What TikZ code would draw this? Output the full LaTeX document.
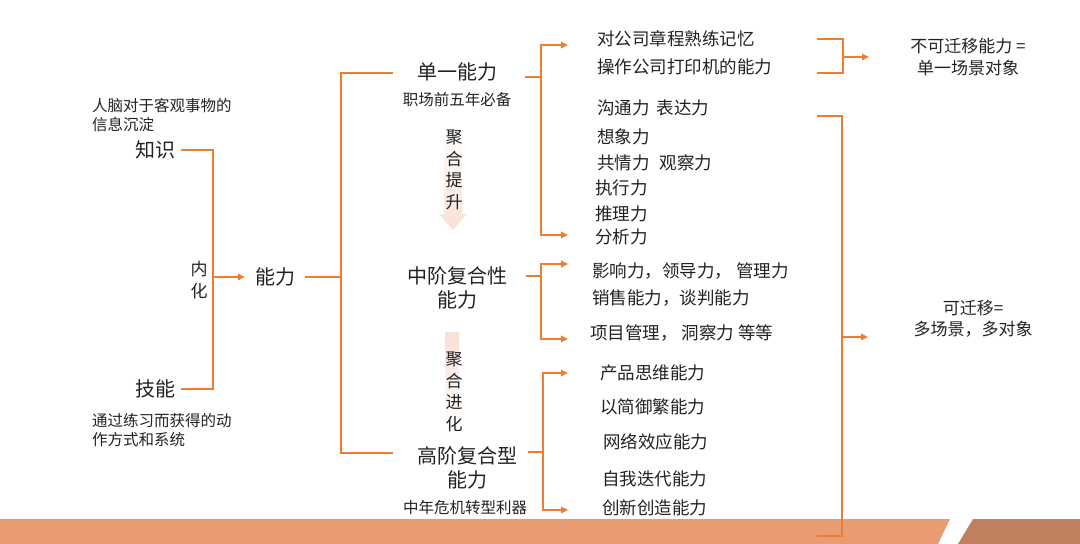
\documentclass[tikz,border=0pt]{standalone}
\usepackage{fontspec}
\setmainfont{Noto Sans CJK SC}
\usetikzlibrary{arrows.meta}
\definecolor{linkorange}{HTML}{ED7D31}
\definecolor{bandlight}{HTML}{E99B72}
\definecolor{banddark}{HTML}{C0805F}
\definecolor{fadepink}{HTML}{F6D9CB}
\definecolor{inkgray}{HTML}{222222}

\tikzset{
  link/.style={draw=linkorange, line width=1.7pt},
  tip/.style={link, -{Triangle[length=7pt,width=6.5pt]}},
  head/.style={align=center, inner sep=0pt, text=inkgray, font=\fontsize{20}{24}\selectfont},
  item/.style={anchor=west, inner sep=0pt, text=inkgray, font=\fontsize{17.5}{20}\selectfont},
  note/.style={align=left, inner sep=0pt, text=inkgray, font=\fontsize{15.5}{19}\selectfont},
  sidetext/.style={align=center, inner sep=0pt, text=inkgray, font=\fontsize{17}{21.5}\selectfont},
}

\begin{document}
\begin{tikzpicture}[x=1pt,y=-1pt]
  \useasboundingbox (0,0) rectangle (1080,544);

  % bottom band
  \fill[bandlight] (0,519) -- (950,519) -- (938,544) -- (0,544) -- cycle;
  \fill[banddark] (973,519) -- (1080,519) -- (1080,544) -- (958,544) -- cycle;

  % faint arrows behind the side texts
  \shade[top color=white, bottom color=fadepink, opacity=0.8]
    (444,128) -- (462,128) -- (462,214) -- (467,214) -- (453,230) -- (439,214) -- (444,214) -- cycle;
  \shade[top color=fadepink, bottom color=white, opacity=0.8]
    (445,332) -- (459,332) -- (459,412) -- (463,412) -- (452,426) -- (441,412) -- (445,412) -- cycle;

  % left side
  \node[note, anchor=west] (knownote) at (92,115.5) {人脑对于客观事物的\\信息沉淀};
  \node[head] (know) at (155,150) {知识};
  \node[head] (skill) at (155,389) {技能};
  \node[note, anchor=west] (skillnote) at (92,430.5) {通过练习而获得的动\\作方式和系统};
  \node[sidetext] (inner) at (199,280) {内\\化};
  \node[head] (ability) at (275,277) {能力};

  \coordinate (join) at (213,277);
  \draw[link] ([xshift=6pt]know.east) -| (join) |- ([xshift=6pt]skill.east);
  \draw[tip] (join) -- ([xshift=-10pt]ability.west);

  % three levels
  \node[head] (single) at (457,72) {单一能力};
  \node[note] (singlenote) at (457,100) {职场前五年必备};
  \node[sidetext] (raise) at (454,170) {聚\\合\\提\\升};
  \node[head] (mid) at (457,288) {中阶复合性\\能力};
  \node[sidetext] (evolve) at (454,392) {聚\\合\\进\\化};
  \node[head] (high) at (467,468) {高阶复合型\\能力};
  \node[note] (highnote) at (465,508) {中年危机转型利器};

  \coordinate (split) at (341,277);
  \coordinate (singlein) at (393,73);
  \coordinate (highin) at (393,453);
  \draw[link] ([xshift=10pt]ability.east) -- (split);
  \draw[link] (singlein) -| (split) |- (highin);

  % items
  \node[item] (memo) at (597,39) {对公司章程熟练记忆};
  \node[item] (printer) at (597,67) {操作公司打印机的能力};
  \node[item] (talk) at (597,108) {沟通力\hspace{7pt}表达力};
  \node[item] (imagine) at (597,137) {想象力};
  \node[item] (empathy) at (597,163) {共情力\hspace{10pt}观察力};
  \node[item] (execute) at (595,188) {执行力};
  \node[item] (reason) at (595,214) {推理力};
  \node[item] (analyse) at (595,237) {分析力};
  \node[item] (lead) at (592,271) {影响力，领导力，\hspace{4pt}管理力};
  \node[item] (sell) at (592,298) {销售能力，谈判能力};
  \node[item] (project) at (590,333) {项目管理，\hspace{4pt}洞察力 等等};
  \node[item] (product) at (600,373) {产品思维能力};
  \node[item] (simple) at (600,407) {以简御繁能力};
  \node[item] (network) at (603,442) {网络效应能力};
  \node[item] (iterate) at (602,479) {自我迭代能力};
  \node[item] (create) at (602,508) {创新创造能力};

  % forks to items
  \coordinate (sfork) at (541,77);
  \draw[link] ([xshift=-16pt]sfork) -- (sfork);
  \draw[tip] (sfork) |- ([xshift=-29pt]memo.west |- 0,45);
  \draw[tip] (sfork) |- ([xshift=-27pt]analyse.west |- 0,235);

  \coordinate (mfork) at (541,276);
  \draw[link] ([xshift=-15pt]mfork) -- (mfork);
  \draw[tip] (mfork) |- ([xshift=-24pt]lead.west |- 0,264);
  \draw[tip] (mfork) |- ([xshift=-22pt]project.west |- 0,339);

  \coordinate (hfork) at (543,452);
  \draw[link] ([xshift=-15pt]hfork) -- (hfork);
  \draw[tip] (hfork) |- ([xshift=-32pt]product.west |- 0,373);
  \draw[tip] (hfork) |- ([xshift=-34pt]create.west |- 0,510);

  % right side
  \node[sidetext] (fixed) at (968,57) {不可迁移能力 =\\单一场景对象};
  \node[sidetext] (transfer) at (973,319) {可迁移=\\多场景，多对象};

  \coordinate (fixtop) at (817,39);
  \coordinate (fixbot) at (817,73);
  \coordinate (fixmid) at (843,57);
  \coordinate (fixend) at (869,57);
  \draw[link] (fixtop) -| (fixmid) |- (fixbot);
  \draw[tip] (fixmid) -- (fixend);

  \coordinate (trtop) at (817,116);
  \coordinate (trbot) at (817,536);
  \coordinate (trmid) at (842,337);
  \coordinate (trend) at (868,337);
  \draw[link] (trtop) -| (trmid) |- (trbot);
  \draw[tip] (trmid) -- (trend);
\end{tikzpicture}
\end{document}
